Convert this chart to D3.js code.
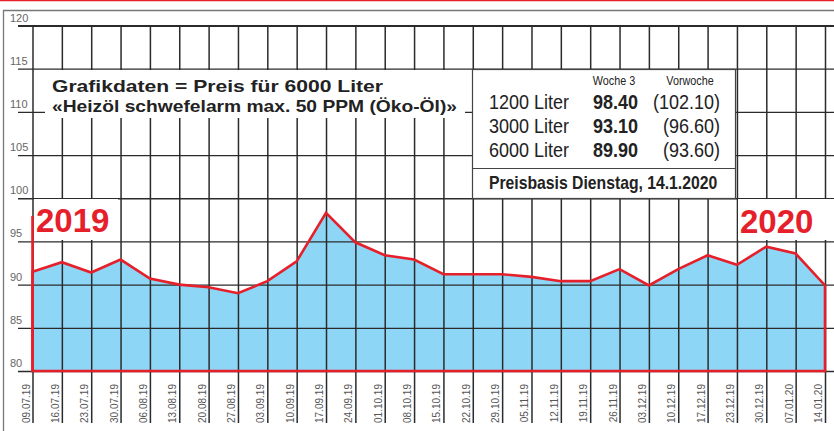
<!DOCTYPE html>
<html>
<head>
<meta charset="utf-8">
<script src="https://cdn.jsdelivr.net/npm/d3@7"></script>
<style>
	body { margin: 0; background: #fff; }
	svg { display: block; }
	text { font-family: "Liberation Sans", Helvetica, Arial, sans-serif; }
</style>
</head>
<body>
<div id="chart"></div>
<script>
// Heizoel-Preise, 6000 Liter, woechentlich
const dates = ['09.07.19', '16.07.19', '23.07.19', '30.07.19', '06.08.19', '13.08.19', '20.08.19',
	'27.08.19', '03.09.19', '10.09.19', '17.09.19', '24.09.19', '01.10.19', '08.10.19', '15.10.19',
	'22.10.19', '29.10.19', '05.11.19', '12.11.19', '19.11.19', '26.11.19', '03.12.19', '10.12.19',
	'17.12.19', '23.12.19', '30.12.19', '07.01.20', '14.01.20'];
const prices = [91.5, 92.6, 91.4, 92.9, 90.7, 90.0, 89.7, 89.0, 90.4, 92.7, 98.3, 94.9, 93.4, 92.9,
	91.2, 91.2, 91.2, 90.9, 90.4, 90.4, 91.8, 89.9, 91.8, 93.4, 92.3, 94.4, 93.6, 89.9];
const yTicks = [80, 85, 90, 95, 100, 105, 110, 115, 120];

const quantities = ['1200 Liter', '3000 Liter', '6000 Liter'];
const thisWeek = [98.40, 93.10, 89.90];
const lastWeek = [102.10, 96.60, 93.60];

const width = 834, height = 431;
const red = '#e5202b';
const gridColor = '#2b2b2b';
const squeeze = 0.9;  // condensed look of the price box font

var svg = d3.select('#chart')
	.append('svg')
	.attr('width', width)
	.attr('height', height);

var xScale = d3.scalePoint()
	.domain(dates)
	.range([32.5, 825]);

var yScale = d3.scaleLinear()
	.domain([80, 120])
	.range([371, 25.5]);

// frame
svg.append('line')
	.attr('x1', 0).attr('x2', width).attr('y1', 0.5).attr('y2', 0.5)
	.attr('stroke', red).attr('stroke-width', 1.5);
svg.append('line')
	.attr('x1', 3).attr('x2', width).attr('y1', 10.5).attr('y2', 10.5)
	.attr('stroke', '#777').attr('stroke-width', 1.3);
svg.append('line')
	.attr('x1', 3.5).attr('x2', 3.5).attr('y1', 10).attr('y2', height)
	.attr('stroke', '#777').attr('stroke-width', 1.3);

// blue area
var area = d3.area()
	.x((d, i) => xScale(dates[i]))
	.y0(yScale(80))
	.y1(d => yScale(d));

svg.append('path')
	.datum(prices)
	.attr('d', area)
	.attr('fill', '#8ed6f6');

// grid: horizontal
var yAxis = d3.axisRight(yScale)
	.tickValues(yTicks)
	.tickSize(width - 18)
	.tickFormat(d3.format('d'));

var yG = svg.append('g')
	.attr('transform', 'translate(18,0)')
	.call(yAxis);
yG.select('.domain').remove();
yG.selectAll('.tick line')
	.attr('stroke', gridColor)
	.attr('stroke-width', d => d == 120 ? 2.2 : 1.3);
yG.selectAll('.tick text')
	.attr('x', -8)
	.attr('dy', -4.5)
	.attr('text-anchor', 'start')
	.attr('fill', '#666')
	.style('font-size', '11px')
	.style('font-family', '"Liberation Sans", Arial, sans-serif');

// grid: vertical + date labels
var xAxis = d3.axisBottom(xScale)
	.tickSize(423 - 25.5);

var xG = svg.append('g')
	.attr('transform', 'translate(0,25.5)')
	.call(xAxis);
xG.select('.domain').remove();
xG.selectAll('.tick line')
	.attr('stroke', gridColor)
	.attr('stroke-width', 1.5);
xG.selectAll('.tick text')
	.attr('transform', 'rotate(-90)')
	.attr('x', -(384 - 25.5))
	.attr('y', -3.5)
	.attr('dy', 0)
	.attr('text-anchor', 'end')
	.attr('fill', '#555')
	.style('font-size', '10px')
	.style('font-family', '"Liberation Sans", Arial, sans-serif');

// white boxes that hide the grid
svg.append('rect')
	.attr('x', 45).attr('y', 70).attr('width', 420).attr('height', 48)
	.attr('fill', '#fff');
svg.append('rect')
	.attr('x', 34).attr('y', 199).attr('width', 84).attr('height', 41)
	.attr('fill', '#fff');
svg.append('rect')
	.attr('x', 738).attr('y', 199).attr('width', 96).attr('height', 41)
	.attr('fill', '#fff');

// red outline
svg.append('path')
	.datum(prices)
	.attr('d', area)
	.attr('fill', 'none')
	.attr('stroke', red)
	.attr('stroke-width', 2.6)
	.attr('stroke-linejoin', 'miter');
svg.append('line')
	.attr('x1', xScale(dates[0])).attr('x2', xScale(dates[0]))
	.attr('y1', 216).attr('y2', yScale(80))
	.attr('stroke', red)
	.attr('stroke-width', 2.6);

// year labels
svg.append('text')
	.attr('x', 36).attr('y', 232)
	.attr('fill', red)
	.style('font-size', '33px')
	.style('font-weight', 'bold')
	.text('2019');
svg.append('text')
	.attr('x', 740).attr('y', 233)
	.attr('fill', red)
	.style('font-size', '33px')
	.style('font-weight', 'bold')
	.text('2020');

// title
svg.append('text')
	.attr('x', 52).attr('y', 92)
	.attr('fill', '#222')
	.attr('textLength', 331)
	.attr('lengthAdjust', 'spacingAndGlyphs')
	.style('font-size', '17px')
	.style('font-weight', 'bold')
	.text('Grafikdaten = Preis für 6000 Liter');
svg.append('text')
	.attr('x', 52).attr('y', 112)
	.attr('fill', '#222')
	.attr('textLength', 405)
	.attr('lengthAdjust', 'spacingAndGlyphs')
	.style('font-size', '17px')
	.style('font-weight', 'bold')
	.text('«Heizöl schwefelarm max. 50 PPM (Öko-Öl)»');

// price box
function narrow(sel, x, y) {
	return sel.attr('transform', `translate(${x},${y}) scale(${squeeze},1)`);
}

var box = svg.append('g');
box.append('rect')
	.attr('x', 472.5).attr('y', 69.5).attr('width', 263).attr('height', 129)
	.attr('fill', '#fff')
	.attr('stroke', '#444')
	.attr('stroke-width', 1.2);
box.append('line')
	.attr('x1', 472.5).attr('x2', 735.5).attr('y1', 168.5).attr('y2', 168.5)
	.attr('stroke', '#444')
	.attr('stroke-width', 1.2);

box.append('text')
	.call(narrow, 614, 85)
	.attr('text-anchor', 'middle')
	.attr('fill', '#222')
	.style('font-size', '12px')
	.text('Woche 3');
box.append('text')
	.call(narrow, 690, 85)
	.attr('text-anchor', 'middle')
	.attr('fill', '#222')
	.style('font-size', '12px')
	.text('Vorwoche');

var rows = box.selectAll('g.row')
	.data(quantities)
	.enter()
	.append('g')
	.attr('class', 'row')
	.attr('transform', (d, i) => `translate(0, ${109 + i * 24})`);

rows.append('text')
	.call(narrow, 489, 0)
	.attr('fill', '#222')
	.style('font-size', '20px')
	.text(d => d);
rows.append('text')
	.call(narrow, 638, 0)
	.attr('text-anchor', 'end')
	.attr('fill', '#222')
	.style('font-size', '20px')
	.style('font-weight', 'bold')
	.text((d, i) => thisWeek[i].toFixed(2));
rows.append('text')
	.call(narrow, 720, 0)
	.attr('text-anchor', 'end')
	.attr('fill', '#222')
	.style('font-size', '20px')
	.text((d, i) => '(' + lastWeek[i].toFixed(2) + ')');

box.append('text')
	.call(narrow, 489, 189)
	.attr('fill', '#222')
	.style('font-size', '17.5px')
	.style('font-weight', 'bold')
	.text('Preisbasis Dienstag, 14.1.2020');
</script>
</body>
</html>
